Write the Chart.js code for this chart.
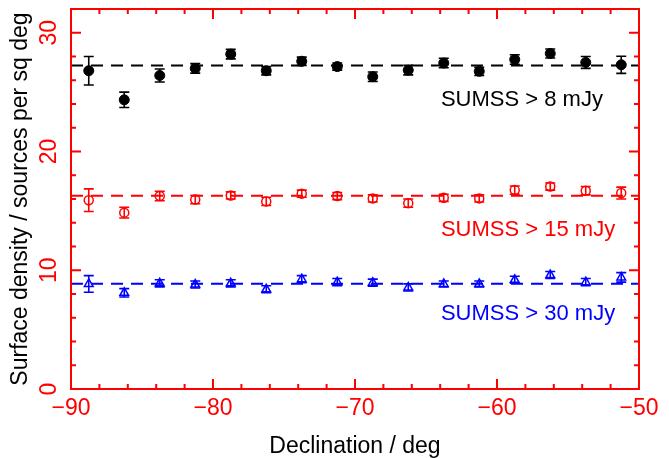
<!DOCTYPE html>
<html>
<head>
<meta charset="utf-8">
<script src="https://cdn.jsdelivr.net/npm/chart.js@4/dist/chart.umd.min.js"></script>
<style>
  body { margin: 0; background: #fff; }
  #box { width: 669px; height: 458px; }
</style>
</head>
<body>
<div id="box"><canvas id="c"></canvas></div>
<script>
// declination bin centres (deg)
var dec = [-88.75, -86.25, -83.75, -81.25, -78.75, -76.25, -73.75, -71.25,
           -68.75, -66.25, -63.75, -61.25, -58.75, -56.25, -53.75, -51.25];

// surface density per sq deg, and errors
var s8  = [26.8, 24.35, 26.4, 27.0, 28.2, 26.8, 27.6, 27.15, 26.3, 26.85, 27.45, 26.75, 27.75, 28.25, 27.5, 27.3];
var e8  = [1.2, 0.65, 0.55, 0.4, 0.4, 0.35, 0.35, 0.3, 0.4, 0.4, 0.4, 0.35, 0.4, 0.38, 0.5, 0.72];
var s15 = [15.9, 14.85, 16.25, 15.95, 16.3, 15.8, 16.45, 16.25, 16.05, 15.65, 16.1, 16.05, 16.75, 17.05, 16.7, 16.5];
var e15 = [0.95, 0.45, 0.4, 0.35, 0.3, 0.35, 0.3, 0.3, 0.3, 0.35, 0.3, 0.3, 0.35, 0.3, 0.35, 0.5];
var s30 = [8.85, 8.1, 8.9, 8.8, 8.9, 8.4, 9.25, 9.0, 8.95, 8.55, 8.85, 8.85, 9.2, 9.6, 9.0, 9.4];
var e30 = [0.7, 0.35, 0.3, 0.3, 0.3, 0.3, 0.3, 0.3, 0.3, 0.3, 0.25, 0.25, 0.3, 0.3, 0.3, 0.4];

// mean levels (dashed lines)
var means = [27.24, 16.28, 8.87];

var seriesNames = ['SUMSS > 8 mJy', 'SUMSS > 15 mJy', 'SUMSS > 30 mJy'];
var xTickValues = [-90, -80, -70, -60, -50];
var xTickLabels = ['\u221290', '\u221280', '\u221270', '\u221260', '\u221250'];
var yTickValues = [0, 10, 20, 30];
var yTickLabels = ['0', '10', '20', '30'];

var RED = '#ff0000', BLUE = '#0000ff', BLACK = '#000000';
var FONT = '"Liberation Sans", Arial, sans-serif';
var colors = [BLACK, RED, BLUE];
var vals = [s8, s15, s30];
var errs = [e8, e15, e30];

// where the series names go (data units: x, baseline y)
var nameX = -63.95;
var nameY = [23.8, 12.9, 5.8];

function pts(v) {
    return dec.map(function (d, i) { return {x: d, y: v[i]}; });
}
function level(m) {
    return [{x: -90, y: m}, {x: -50, y: m}];
}

var framePlugin = {
    id: 'frame',
    afterDatasetsDraw: function (chart) {
        var ctx = chart.ctx, xs = chart.scales.x, ys = chart.scales.y;
        ctx.save();
        ctx.lineWidth = 1.6;
        for (var s = 0; s < 3; s++) {
            ctx.strokeStyle = colors[s];
            for (var j = 0; j < dec.length; j++) {
                var px = xs.getPixelForValue(dec[j]);
                var top = ys.getPixelForValue(vals[s][j] + errs[s][j]);
                var bot = ys.getPixelForValue(vals[s][j] - errs[s][j]);
                ctx.beginPath();
                ctx.moveTo(px, top); ctx.lineTo(px, bot);
                ctx.moveTo(px - 5, top); ctx.lineTo(px + 5, top);
                ctx.moveTo(px - 5, bot); ctx.lineTo(px + 5, bot);
                ctx.stroke();
            }
        }
        ctx.restore();
    },
    afterDraw: function (chart) {
        var ctx = chart.ctx, a = chart.chartArea, xs = chart.scales.x, ys = chart.scales.y;
        ctx.save();
        ctx.strokeStyle = RED;
        ctx.lineWidth = 2;
        ctx.strokeRect(a.left, a.top, a.right - a.left, a.bottom - a.top);

        // inward ticks on all four sides
        ctx.beginPath();
        for (var v = -90; v <= -50; v += 2) {
            var px = xs.getPixelForValue(v);
            var len = (v % 10 === 0) ? 10 : 5;
            ctx.moveTo(px, a.bottom); ctx.lineTo(px, a.bottom - len);
            ctx.moveTo(px, a.top); ctx.lineTo(px, a.top + len);
        }
        for (var w = 0; w <= 32; w += 2) {
            var py = ys.getPixelForValue(w);
            var l2 = (w % 10 === 0) ? 10 : 5;
            ctx.moveTo(a.left, py); ctx.lineTo(a.left + l2, py);
            ctx.moveTo(a.right, py); ctx.lineTo(a.right - l2, py);
        }
        ctx.stroke();

        // rotated y tick labels
        ctx.fillStyle = RED;
        ctx.font = '23px ' + FONT;
        ctx.textAlign = 'center';
        ctx.textBaseline = 'alphabetic';
        yTickValues.forEach(function (t, i) {
            ctx.save();
            ctx.translate(a.left - 15, ys.getPixelForValue(t));
            ctx.rotate(-Math.PI / 2);
            ctx.fillText(yTickLabels[i], 0, 0);
            ctx.restore();
        });

        // axis titles
        ctx.fillStyle = BLACK;
        ctx.fillText('Declination / deg', (a.left + a.right) / 2, 453);
        ctx.save();
        ctx.translate(27, (a.top + a.bottom) / 2);
        ctx.rotate(-Math.PI / 2);
        ctx.fillText('Surface density / sources per sq deg', 0, 0);
        ctx.restore();

        // series names
        ctx.font = '22px ' + FONT;
        ctx.textAlign = 'left';
        for (var k = 0; k < 3; k++) {
            ctx.fillStyle = colors[k];
            ctx.fillText(seriesNames[k], xs.getPixelForValue(nameX), ys.getPixelForValue(nameY[k]));
        }
        ctx.restore();
    }
};

new Chart(document.getElementById('c'), {
    type: 'scatter',
    data: {
        datasets: [
            {data: pts(s8), pointStyle: 'circle', pointRadius: 5, backgroundColor: BLACK, borderColor: BLACK, borderWidth: 1},
            {data: pts(s15), pointStyle: 'circle', pointRadius: 4.5, backgroundColor: 'rgba(0,0,0,0)', borderColor: RED, borderWidth: 1.5},
            {data: pts(s30), pointStyle: 'triangle', pointRadius: 5, backgroundColor: 'rgba(0,0,0,0)', borderColor: BLUE, borderWidth: 1.5},
            {type: 'line', data: level(means[0]), borderColor: BLACK, borderWidth: 2, borderDash: [12, 8], pointRadius: 0},
            {type: 'line', data: level(means[1]), borderColor: RED, borderWidth: 2, borderDash: [12, 8], pointRadius: 0},
            {type: 'line', data: level(means[2]), borderColor: BLUE, borderWidth: 2, borderDash: [12, 8], pointRadius: 0}
        ]
    },
    options: {
        responsive: true,
        maintainAspectRatio: false,
        animation: false,
        devicePixelRatio: 1,
        layout: {padding: {left: 0, top: 9, right: 30, bottom: 0}},
        plugins: {legend: {display: false}, tooltip: {enabled: false}},
        scales: {
            x: {
                type: 'linear', min: -90, max: -50,
                afterBuildTicks: function (s) { s.ticks = xTickValues.map(function (v) { return {value: v}; }); },
                afterFit: function (s) { s.height = 69; },
                grid: {display: false, drawTicks: false},
                border: {display: false},
                ticks: {
                    color: RED, padding: 6, maxRotation: 0, autoSkip: false,
                    font: {family: FONT, size: 23},
                    callback: function (v, i) { return xTickLabels[i]; }
                }
            },
            y: {
                type: 'linear', min: 0, max: 32,
                afterFit: function (s) { s.width = 71; },
                grid: {display: false},
                border: {display: false},
                ticks: {display: false}
            }
        }
    },
    plugins: [framePlugin]
});
</script>
</body>
</html>
